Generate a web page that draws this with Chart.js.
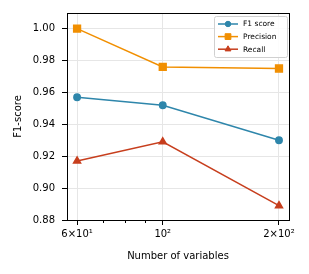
<!DOCTYPE html>
<html>
<head>
<meta charset="utf-8">
<script src="https://cdn.jsdelivr.net/npm/chart.js@4.4.0/dist/chart.umd.min.js"></script>
<style>
  html, body { margin: 0; padding: 0; background: #fff; }
  #wrap { width: 309px; height: 274px; }
</style>
</head>
<body>
<div id="wrap"><canvas id="graphique"></canvas></div>
<script>
var nbVariables = [60, 100, 200];
var f1Score = [0.957, 0.952, 0.930];
var precision = [1.000, 0.976, 0.975];
var recall = [0.917, 0.929, 0.889];
var xTicks = [60, 70, 80, 90, 100, 200];
var xLabels = { 60: '6×10¹', 100: '10²', 200: '2×10²' };
var yTicks = [0.88, 0.90, 0.92, 0.94, 0.96, 0.98, 1.00];

function points(vals) {
  return nbVariables.map(function (n, i) { return { x: n, y: vals[i] }; });
}

// cadre + legende dans la zone du graphique, comme matplotlib
var cadre = {
  id: 'cadre',
  afterDraw: function (chart) {
    var c = chart.ctx, a = chart.chartArea;
    c.save();
    c.strokeStyle = '#000';
    c.lineWidth = 1;
    c.strokeRect(Math.round(a.left) + 0.5, Math.round(a.top) + 0.5,
      Math.round(a.right - a.left), Math.round(a.bottom - a.top));

    // petites graduations mineures
    var xs = chart.scales.x;
    [70, 80, 90].forEach(function (v) {
      var px = Math.round(xs.getPixelForValue(v)) + 0.5;
      c.beginPath();
      c.moveTo(px, a.bottom);
      c.lineTo(px, a.bottom + 3);
      c.stroke();
    });

    // legende
    var lx = 214, ly = 16, lw = 73, lh = 41;
    c.fillStyle = 'rgba(255,255,255,0.85)';
    c.strokeStyle = '#d0d0d0';
    c.lineWidth = 1;
    c.beginPath();
    c.roundRect(lx + 0.5, ly + 0.5, lw, lh, 2);
    c.fill();
    c.stroke();
    c.font = '7.5px "DejaVu Sans"';
    c.textBaseline = 'middle';
    chart.data.datasets.forEach(function (ds, i) {
      var yy = ly + 8 + i * 12.6;
      c.strokeStyle = ds.borderColor;
      c.fillStyle = ds.borderColor;
      c.lineWidth = 1.5;
      c.beginPath();
      c.moveTo(lx + 4, yy);
      c.lineTo(lx + 24, yy);
      c.stroke();
      c.lineWidth = 1;
      Chart.helpers.drawPoint(c, {
        pointStyle: ds.pointStyle, radius: ds.pointRadius * 0.85, rotation: 0, borderWidth: 1
      }, lx + 14, yy);
      c.fillStyle = '#000';
      c.fillText(ds.label, lx + 29, yy + 0.5);
    });
    c.restore();
  }
};

function styleSerie(label, vals, col, forme, r) {
  return {
    label: label,
    data: points(vals),
    borderColor: col,
    backgroundColor: col,
    pointBackgroundColor: col,
    pointBorderColor: col,
    pointStyle: forme,
    pointRadius: r,
    pointHoverRadius: r,
    borderWidth: 1.5,
    tension: 0
  };
}

var donnee = {
  datasets: [
    styleSerie('F1 score', f1Score, '#2E86AB', 'circle', 3.2),
    styleSerie('Precision', precision, '#F18F01', 'rect', 4.8),
    styleSerie('Recall', recall, '#C73E1D', 'triangle', 4)
  ]
};

var police = { family: 'DejaVu Sans', size: 10 };

var config = {
  type: 'line',
  data: donnee,
  options: {
    responsive: true,
    maintainAspectRatio: false,
    animation: false,
    layout: { padding: { left: 0, right: 20, top: 13, bottom: 0 } },
    plugins: { legend: { display: false }, tooltip: { enabled: false } },
    scales: {
      x: {
        type: 'logarithmic',
        min: 56.5,
        max: 212.3,
        afterBuildTicks: function (s) {
          s.ticks = xTicks.map(function (v) { return { value: v }; });
        },
        afterFit: function (s) { s.height = 54; },
        ticks: {
          autoSkip: false,
          maxRotation: 0,
          color: '#000',
          font: police,
          padding: 3,
          callback: function (v) { return xLabels[v] || ''; }
        },
        grid: {
          color: function (ctx) {
            return xLabels[ctx.tick && ctx.tick.value] ? '#e6e6e6' : 'rgba(0,0,0,0)';
          },
          tickColor: function (ctx) {
            return xLabels[ctx.tick && ctx.tick.value] ? '#000' : 'rgba(0,0,0,0)';
          },
          tickLength: 5,
          lineWidth: 1
        },
        border: { color: '#000' },
        title: {
          display: true,
          text: 'Number of variables',
          color: '#000',
          font: { family: 'DejaVu Sans', size: 10 },
          padding: { top: 0, bottom: 12 }
        }
      },
      y: {
        min: 0.88,
        max: 1.0098,
        afterBuildTicks: function (s) {
          s.ticks = yTicks.map(function (v) { return { value: v }; });
        },
        afterFit: function (s) { s.width = 67; },
        ticks: {
          color: '#000',
          font: police,
          padding: 7,
          callback: function (v) { return v.toFixed(2); }
        },
        grid: { color: '#e6e6e6', tickColor: '#000', tickLength: 5 },
        border: { color: '#000' },
        title: {
          display: true,
          text: 'F1-score',
          color: '#000',
          font: { family: 'DejaVu Sans', size: 10 },
          padding: { top: 12, bottom: 0 }
        }
      }
    }
  },
  plugins: [cadre]
};

var graph1 = new Chart(document.getElementById('graphique').getContext('2d'), config);
</script>
</body>
</html>
